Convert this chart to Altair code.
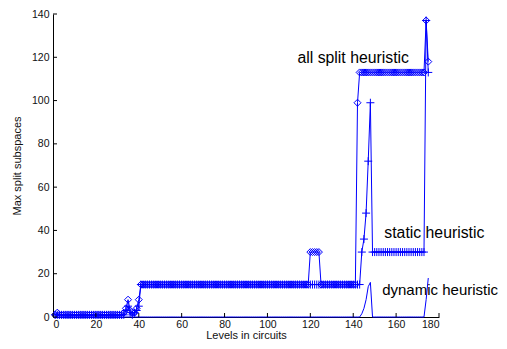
import altair as alt
import pandas as pd

# ---- data ----
levels = list(range(1, 176))

all_split = ([1, 2] + [1] * 30 + [2, 4, 8, 3, 2, 2, 4, 8] + [15] * 79 + [30] * 5
             + [15] * 17 + [99] + [113] * 31 + [137, 118])
static = ([1] * 32 + [1, 3, 5, 2, 1, 2, 3, 5] + [15] * 103 + [30, 36, 48, 72, 99]
          + [30] * 25 + [137, 113])
dynamic = ([0] * 143 + [1.5, 4, 8, 14, 16] + [0] * 25 + [8, 18])

x_ticks = [0, 20, 40, 60, 80, 100, 120, 140, 160, 180]
y_ticks = [0, 20, 40, 60, 80, 100, 120, 140]

label_text = ["all split heuristic", "static heuristic", "dynamic heuristic"]
label_x = [114, 154.5, 153.5]
label_y = [119.8, 39, 12.5]
label_size = [15.8, 15.8, 15]

BLUE = "#0000ff"
W, H = 386, 303
FONT = "Liberation Sans"

rows = []
for name, vals in (("all", all_split), ("static", static), ("dynamic", dynamic)):
    for lv, v in zip(levels, vals):
        rows.append({"level": lv, "value": v, "series": name})
df = pd.DataFrame(rows)

xs = alt.Scale(domain=[0, 180], nice=False, zero=False)
ys = alt.Scale(domain=[0, 140], nice=False)
x_axis = alt.Axis(values=x_ticks, title="Levels in circuits", grid=False, ticks=False,
                  labelPadding=2, titleBaseline="alphabetic", titleY=21)
y_axis = alt.Axis(values=y_ticks, title="Max split subspaces", grid=False, ticks=False,
                  labelPadding=4, titlePadding=9)
X = alt.X("level:Q", scale=xs, axis=x_axis)
Y = alt.Y("value:Q", scale=ys, axis=y_axis)

base = alt.Chart(df)
lines = base.mark_line(color=BLUE, strokeWidth=1).encode(x=X, y=Y, detail="series:N")
pts_all = base.transform_filter(alt.datum.series == "all").mark_point(
    shape="diamond", filled=False, size=49, color=BLUE, strokeWidth=1, opacity=1).encode(x=X, y=Y)
pts_static = base.transform_filter(alt.datum.series == "static").mark_point(
    shape="M-1,0L1,0M0,-1L0,1", filled=False, size=64, color=BLUE, strokeWidth=1,
    opacity=1).encode(x=X, y=Y)

xt = alt.Chart(pd.DataFrame({"level": x_ticks})).mark_rule(color="#000000", strokeWidth=1).encode(
    x=X, y=alt.value(H), y2=alt.value(H - 4))
yt = alt.Chart(pd.DataFrame({"value": y_ticks})).mark_rule(color="#000000", strokeWidth=1).encode(
    y=Y, x=alt.value(0), x2=alt.value(4))

labels = alt.Chart(pd.DataFrame({"t": label_text, "level": label_x, "value": label_y,
                                 "fs": label_size})).mark_text(
    align="left", baseline="middle", font=FONT, color="#000000").encode(
    x=X, y=Y, text="t:N", size=alt.Size("fs:Q", scale=None, legend=None))

chart = alt.layer(lines, pts_all, pts_static, xt, yt, labels).properties(
    width=W, height=H, autosize=alt.AutoSizeParams(type="none"),
    padding={"left": 45, "top": 6, "right": 60, "bottom": 22}
).configure_view(stroke=None).configure_axis(
    domainColor="#000000", domainWidth=1, labelFont=FONT, titleFont=FONT, labelFontSize=10.5,
    titleFontSize=11, labelColor="#111111", titleColor="#111111", titleFontWeight="normal"
)

chart.save("out.html", embed_options={"renderer": "svg", "actions": False})
